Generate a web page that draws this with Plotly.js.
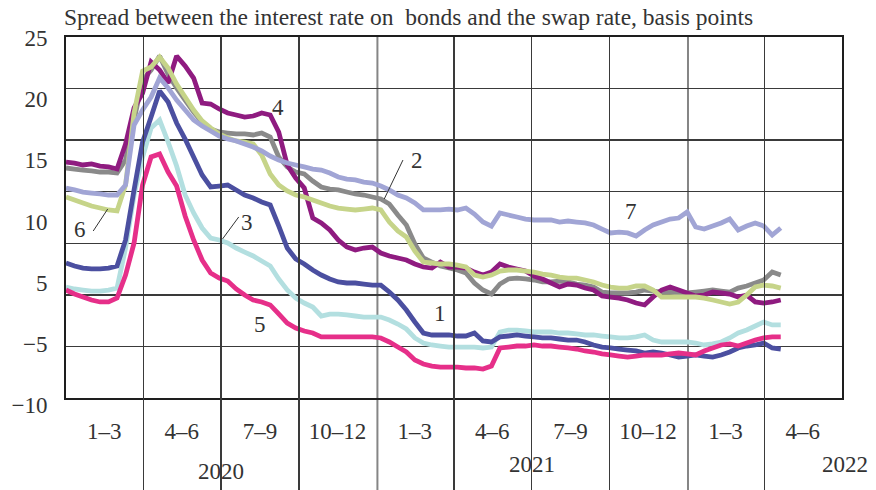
<!DOCTYPE html>
<html>
<head>
<meta charset="utf-8">
<script src="https://cdn.plot.ly/plotly-3.0.1.min.js"></script>
<style>html,body{margin:0;padding:0;background:#fff;}#chart{width:876px;height:490px;}</style>
</head>
<body>
<div id="chart"></div>
<script>
// ---- data (10-day sampling from 2020-01-01) ----
const startDate = '2020-01-01';
const stepDays = 10;

const s1 = [3.09, 2.80, 2.60, 2.51, 2.51, 2.60, 2.80, 5.32, 10.17, 14.82,
 17.25, 19.77, 18.70, 16.66, 15.11, 13.37, 11.62, 10.46, 10.55, 10.65,
 10.17, 9.68, 9.39, 9.00, 8.71, 6.68, 4.54, 3.48, 2.99, 2.41,
 1.92, 1.54, 1.25, 1.15, 1.15, 1.05, 0.95, 0.95, 0.28, -0.50,
 -1.47, -2.63, -3.70, -3.89, -3.89, -3.89, -3.99, -3.99, -3.70, -4.47,
 -4.57, -4.08, -3.99, -3.89, -3.99, -4.08, -4.18, -4.18, -4.28, -4.38,
 -4.38, -4.57, -4.86, -5.06, -5.15, -5.25, -5.35, -5.44, -5.64, -5.54,
 -5.64, -5.83, -6.03, -5.93, -5.83, -5.93, -6.03, -5.83, -5.54, -5.15,
 -4.96, -4.86, -4.67, -5.15, -5.25];

const s2 = [12.30, 12.20, 12.10, 12.01, 11.91, 11.91, 11.81, 13.07, 16.95, 20.83,
 21.80, 23.16, 21.41, 20.06, 18.89, 17.73, 16.76, 16.08, 15.79, 15.69,
 15.60, 15.60, 15.50, 15.69, 15.31, 13.37, 12.40, 11.91, 11.72, 11.04,
 10.46, 10.26, 10.17, 9.97, 9.78, 9.68, 9.49, 9.29, 8.81, 7.74,
 6.77, 4.93, 3.57, 3.18, 2.80, 2.60, 2.41, 2.12, 1.15, 0.47,
 0.08, 1.05, 1.54, 1.63, 1.54, 1.44, 1.25, 1.25, 1.34, 1.25,
 1.05, 0.95, 0.76, 0.27, 0.18, 0.18, 0.18, 0.27, 0.47, 0.37,
 0.27, 0.27, 0.18, 0.18, 0.27, 0.37, 0.47, 0.37, 0.27, 0.66,
 0.86, 1.15, 1.44, 2.21, 1.92];

const s3 = [0.76, 0.57, 0.47, 0.37, 0.37, 0.47, 0.66, 4.54, 9.68, 13.37,
 16.18, 16.95, 14.82, 12.49, 9.68, 7.94, 6.48, 5.51, 5.32, 5.03,
 4.54, 4.15, 3.77, 3.28, 2.80, 1.54, 0.47, -0.31, -0.79, -1.18,
 -2.05, -1.86, -1.86, -1.95, -2.05, -2.15, -2.15, -2.15, -2.44, -2.83,
 -3.31, -4.18, -4.67, -4.86, -4.96, -5.06, -5.06, -5.06, -5.06, -5.15,
 -5.06, -3.60, -3.41, -3.41, -3.50, -3.60, -3.60, -3.60, -3.70, -3.70,
 -3.79, -3.89, -3.89, -3.99, -4.08, -4.18, -4.18, -4.08, -3.89, -4.38,
 -4.57, -4.57, -4.57, -4.57, -4.67, -4.86, -4.76, -4.57, -4.18, -3.70,
 -3.41, -3.02, -2.63, -2.92, -2.92];

const s4 = [12.88, 12.78, 12.59, 12.69, 12.49, 12.40, 12.20, 14.63, 18.12, 19.57,
 22.58, 21.80, 20.54, 23.16, 22.19, 21.02, 18.60, 18.50, 18.02, 17.63,
 17.44, 17.24, 17.34, 17.63, 17.44, 15.79, 12.59, 11.33, 10.36, 7.45,
 6.97, 6.29, 5.32, 4.64, 4.35, 4.54, 4.64, 4.06, 3.77, 3.57,
 3.38, 2.99, 2.70, 2.60, 3.18, 2.70, 2.70, 2.60, 2.21, 1.92,
 2.21, 2.99, 2.70, 2.51, 2.31, 1.82, 1.54, 1.15, 0.76, 1.05,
 0.95, 0.66, 0.47, -0.11, -0.21, -0.31, -0.50, -0.79, -0.98, -0.21,
 0.47, 0.76, 0.47, 0.18, -0.11, -0.02, 0.27, 0.18, 0.08, -0.21,
 -0.02, -0.69, -0.79, -0.69, -0.50];

const s5 = [0.47, 0.08, -0.21, -0.50, -0.69, -0.69, -0.31, 1.92, 5.03, 10.65,
 13.37, 13.66, 11.91, 10.55, 7.65, 5.32, 3.38, 2.12, 1.63, 1.34,
 0.57, -0.02, -0.50, -0.69, -0.98, -1.85, -2.73, -3.22, -3.51, -3.70,
 -4.08, -4.08, -4.08, -4.08, -4.08, -4.08, -4.08, -4.18, -4.57, -5.06,
 -5.54, -6.32, -6.70, -6.90, -7.00, -7.00, -7.00, -7.09, -7.09, -7.19,
 -6.90, -5.15, -5.06, -4.96, -4.96, -4.86, -4.96, -4.96, -5.06, -5.15,
 -5.25, -5.44, -5.54, -5.73, -5.83, -5.93, -6.03, -5.93, -5.83, -5.83,
 -5.83, -5.73, -5.64, -5.73, -5.83, -5.44, -5.15, -4.86, -4.76, -4.96,
 -4.67, -4.38, -4.18, -4.08, -4.08];

const s6 = [9.49, 9.20, 8.91, 8.61, 8.42, 8.23, 8.13, 10.65, 17.63, 21.70,
 22.09, 23.06, 21.99, 20.44, 19.18, 17.92, 16.86, 16.18, 15.60, 15.21,
 14.92, 14.82, 14.63, 13.56, 11.72, 10.65, 10.07, 9.68, 9.49, 9.20,
 8.91, 8.61, 8.42, 8.32, 8.23, 8.32, 8.42, 8.23, 7.06, 6.19,
 5.61, 4.25, 3.18, 3.09, 2.99, 2.99, 2.89, 2.70, 1.92, 1.73,
 1.92, 2.31, 2.41, 2.41, 2.31, 2.21, 2.02, 1.92, 1.73, 1.63,
 1.63, 1.44, 1.25, 0.95, 0.76, 0.66, 0.66, 0.86, 0.86, 0.47,
 -0.21, -0.21, -0.21, -0.21, -0.21, -0.31, -0.50, -0.69, -0.89, -0.69,
 -0.02, 0.76, 0.95, 0.86, 0.66];

const s7 = [10.36, 10.17, 9.97, 9.87, 9.78, 9.68, 9.68, 10.65, 16.47, 17.92,
 19.18, 21.02, 20.06, 18.89, 17.92, 16.95, 16.37, 15.89, 15.40, 15.11,
 14.92, 14.63, 14.33, 13.95, 13.46, 13.07, 12.78, 12.59, 12.40, 12.20,
 12.10, 11.81, 11.43, 11.23, 11.14, 10.94, 10.84, 10.55, 10.17, 9.68,
 9.39, 8.91, 8.23, 8.23, 8.23, 8.32, 8.23, 8.42, 7.84, 7.06,
 6.67, 7.94, 7.74, 7.55, 7.35, 7.26, 7.26, 7.26, 7.06, 7.16,
 7.06, 6.97, 6.77, 6.38, 6.00, 6.09, 6.00, 5.71, 6.29, 6.77,
 7.06, 7.35, 7.45, 8.03, 6.58, 6.38, 6.67, 6.97, 7.35, 6.29,
 6.67, 6.97, 6.67, 5.80, 6.48];

const seriesNames = ['1', '2', '3', '4', '5', '6', '7'];
const seriesColors = ['#4b4fa0', '#8a8a8a', '#b3dfe0', '#8f1b80', '#e62f89', '#c6d489', '#a1a5d5'];

const quarterMid = ['2020-02-15','2020-05-16','2020-08-16','2020-11-15','2021-02-14','2021-05-16','2021-08-16','2021-11-15','2022-02-14','2022-05-16'];
const quarterLabels = ['1–3','4–6','7–9','10–12','1–3','4–6','7–9','10–12','1–3','4–6'];
const quarterLines = ['2020-04-01','2020-07-01','2020-10-01','2021-04-01','2021-07-01','2021-10-01','2022-04-01'];
const yearLines = ['2021-01-01','2022-01-01'];
const years = ['2020','2021','2022'];
const yearCenters = ['2020-07-01','2021-07-02','2022-06-28'];
const yLabelVals = [0,1,2,3,4,5,6];
const yLabels = ['−10','−5','5','10','15','20','25'];

// ---- build ----
function makeDates(n){
  const t0 = Date.parse(startDate + 'T00:00:00Z');
  const out = [];
  for (let k = 0; k < n; k++) out.push(new Date(t0 + k*stepDays*86400000).toISOString().slice(0,10));
  return out;
}
const dates = makeDates(s1.length);
const allSeries = [s1, s2, s3, s4, s5, s6, s7];
const drawOrder = [1, 3, 5, 6, 2, 0, 4];

const FONT = 'Liberation Serif, Times New Roman, serif';
const TXT = '#333333';
const FS = 23;

const traces = drawOrder.map(i => ({
  type: 'scatter', mode: 'lines', x: dates, y: allSeries[i], name: seriesNames[i],
  line: {color: seriesColors[i], width: 4.8, simplify: false},
  hoverinfo: 'skip', showlegend: false
}));
traces.push({type:'scatter', mode:'lines', x:[dates[0]], y:[null], xaxis:'x', yaxis:'y2', showlegend:false, hoverinfo:'skip'});

const gridC = '#3a3a3a';
const layout = {
  width: 876, height: 490,
  margin: {l: 66, r: 34, t: 37, b: 0},
  paper_bgcolor: '#ffffff', plot_bgcolor: 'rgba(0,0,0,0)',
  font: {family: FONT, size: FS, color: TXT},
  showlegend: false,
  title: {text: 'Spread between the interest rate on\u00a0 bonds and the swap rate, basis points',
    x: 64/876, xref: 'container', xanchor: 'left', y: 1 - 17/490, yref: 'container', yanchor: 'middle',
    font: {family: FONT, size: 23.5, color: TXT}},
  xaxis: {
    type: 'date', range: ['2020-01-01', '2022-07-01'], fixedrange: true,
    tickmode: 'array', tickvals: quarterMid, ticktext: quarterLabels,
    ticks: 'outside', ticklen: 11, tickcolor: 'rgba(0,0,0,0)',
    showgrid: false, zeroline: false,
    showline: true, mirror: true, linecolor: '#1e1e1e', linewidth: 2,
    minor: {tickmode: 'array', tickvals: quarterLines, showgrid: true, gridcolor: gridC, gridwidth: 1.3, ticks: ''},
    tickfont: {family: FONT, size: FS, color: TXT}
  },
  yaxis: {
    domain: [92/453, 1], range: [-10, 25], tick0: 0, dtick: 5, fixedrange: true,
    showticklabels: false, ticks: '', showgrid: true, gridcolor: gridC, gridwidth: 1.3,
    zeroline: false, showline: true, mirror: true, linecolor: '#1e1e1e', linewidth: 2
  },
  yaxis2: {
    domain: [0, 1], anchor: 'x', side: 'left', range: [-1.390, 6.016], fixedrange: true,
    tickmode: 'array', tickvals: yLabelVals, ticktext: yLabels,
    ticks: 'outside', ticklen: 13, tickcolor: 'rgba(0,0,0,0)',
    showgrid: false, zeroline: false, showline: false,
    tickfont: {family: FONT, size: FS, color: TXT}
  },
  shapes: yearLines.map(d => ({type:'line', xref:'x', yref:'paper', x0:d, x1:d, y0:0, y1:1,
    line:{color:'#858585', width:2}, layer:'below'})).concat([
    {type:'line', xref:'x', yref:'y', x0:'2021-01-31', y0:13.07, x1:'2021-01-09', y1:9.29, line:{color:TXT, width:1}},
    {type:'line', xref:'x', yref:'y', x0:'2020-02-19', y0:8.32, x1:'2020-02-02', y1:6.19, line:{color:TXT, width:1}},
    {type:'line', xref:'x', yref:'y', x0:'2020-07-22', y0:7.55, x1:'2020-07-03', y1:5.42, line:{color:TXT, width:1}}
  ]),
  annotations: years.map((t, i) => ({text: t, xref: 'x', yref: 'paper', x: yearCenters[i],
      y: i === 0 ? 19/453 : 26/453, yanchor: 'middle', xanchor: 'center', xshift: i === 2 ? 6 : 0,
      showarrow: false, font: {family: FONT, size: FS, color: TXT}})).concat([
    {text:'4', x:'2020-09-06', y:18.12},
    {text:'2', x:'2021-02-16', y:13.07},
    {text:'6', x:'2020-01-17', y:6.38},
    {text:'3', x:'2020-08-01', y:7.06},
    {text:'5', x:'2020-08-16', y:-2.92},
    {text:'1', x:'2021-03-15', y:-1.76},
    {text:'7', x:'2021-10-26', y:8.13}
  ].map(a => Object.assign({xref:'x', yref:'y', showarrow:false, xanchor:'center', yanchor:'middle',
      font:{family: FONT, size: FS, color: TXT}}, a)))
};

Plotly.newPlot('chart', traces, layout, {staticPlot: true, displayModeBar: false});
</script>
</body>
</html>
